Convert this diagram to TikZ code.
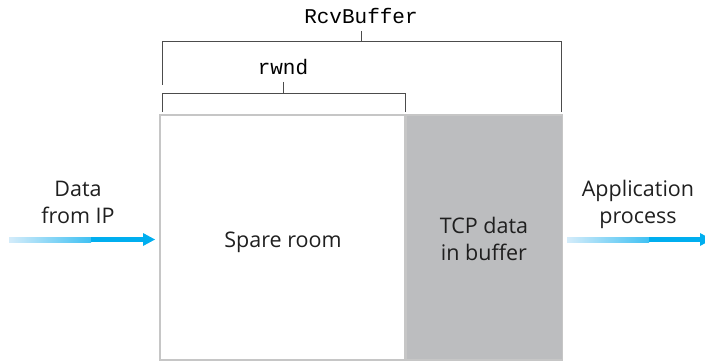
\documentclass[tikz,border=0pt]{standalone}
\usepackage{fontspec}
\setmainfont{Open Sans}
\setmonofont{Liberation Mono}
\usepackage{tikz}
\usetikzlibrary{positioning, calc}

\tikzset{
    bracket/.style={draw=black!70, line width=0.9pt},
    bufpart/.style={draw=edgegray, line width=1.6pt, minimum height=245pt, inner sep=0pt},
    bodytext/.style={align=center, text=black!88, anchor=base, font=\fontsize{21.5}{27}\selectfont},
    monolabel/.style={font=\ttfamily\fontsize{21}{24}\selectfont, inner sep=0pt, anchor=base}
}

\begin{document}
\begin{tikzpicture}[x=1pt, y=-1pt]
    \definecolor{cyanarrow}{RGB}{0, 174, 239}   % Arrow tip
    \definecolor{lightarrow}{RGB}{212, 236, 250} % Arrow tail
    \definecolor{bufgray}{RGB}{188, 189, 191}
    \definecolor{edgegray}{RGB}{198, 198, 198}

    \useasboundingbox (0,0) rectangle (705,361);

    % Buffer
    \node[bufpart, minimum width=245pt] (spare) at (282.5,237.5) {};
    \node[bufpart, fill=bufgray, minimum width=156pt, anchor=west] (tcpdata) at (spare.east) {};
    \node[bodytext] (sparetxt) at (283,247) {Spare room};
    \node[bodytext] (tcptxt) at (484,260) {TCP data\\in buffer};

    % Labels
    \node[monolabel] (rcvbuf) at (361,24) {RcvBuffer};
    \node[monolabel] (rwnd) at (283,75) {rwnd};

    % Brackets
    \draw[bracket] (162,85) -- (162,41) -- (561,41) -- (561,112);
    \draw[bracket] (rcvbuf.south |- 0,31) -- (rcvbuf.south |- 0,41);
    \draw[bracket] (162,112) -- (162,93) -- (405,93) -- (405,112);
    \draw[bracket] (rwnd.south |- 0,82) -- (rwnd.south |- 0,93);

    % Incoming data
    \node[bodytext] (fromip) at (78,223) {Data\\from IP};
    \coordinate (inA) at (9,239.5);
    \coordinate (inB) at (155,239.5);
    \shade[left color=lightarrow, right color=cyanarrow!70!lightarrow] ($(inA)+(0,-2.5)$) rectangle ($(inA)+(82,2.5)$);
    \fill[cyanarrow] ($(inA)+(82,-2.5)$) rectangle ($(inB)+(-11,2.5)$);
    \fill[cyanarrow] (inB) -- ++(-12,-6.5) -- ++(0,13) -- cycle;

    % Outgoing data
    \node[bodytext] (appproc) at (638,223) {Application\\process};
    \coordinate (outA) at (567,239.5);
    \coordinate (outB) at (712,239.5);
    \shade[left color=lightarrow, right color=cyanarrow!70!lightarrow] ($(outA)+(0,-2.5)$) rectangle ($(outA)+(82,2.5)$);
    \fill[cyanarrow] ($(outA)+(82,-2.5)$) rectangle ($(outB)+(-11,2.5)$);
    \fill[cyanarrow] (outB) -- ++(-12,-6.5) -- ++(0,13) -- cycle;
\end{tikzpicture}
\end{document}
